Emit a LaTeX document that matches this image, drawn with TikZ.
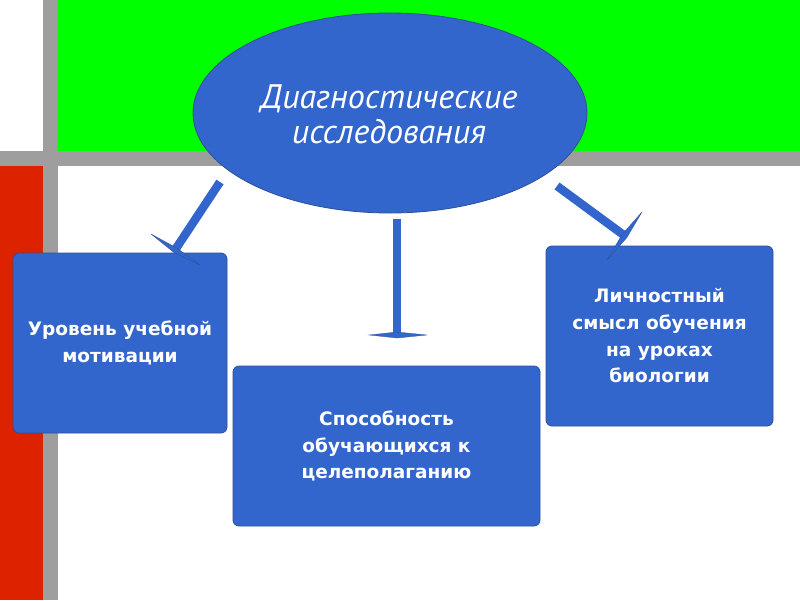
\documentclass[tikz,border=0pt]{standalone}
\usepackage{fontspec}
\setmainfont{DejaVu Sans}
\newfontfamily\ellfont{PT Sans}
\usetikzlibrary{shapes.geometric}
\definecolor{mainblue}{RGB}{51,102,204}
\definecolor{boxedge}{RGB}{45,80,150}
\definecolor{bargrey}{RGB}{158,158,158}
\definecolor{topgreen}{RGB}{0,255,0}
\definecolor{sidered}{RGB}{221,34,0}
\begin{document}
\begin{tikzpicture}[x=1pt,y=-1pt,
  boxstyle/.style={draw=boxedge, line width=0.8pt, fill=mainblue, rounded corners=6pt,
    text=white, font=\bfseries\fontsize{18.5}{26.7}\selectfont, align=center, inner sep=0pt},
  ellstyle/.style={ellipse, draw=boxedge, line width=0.8pt, fill=mainblue, text=white,
    font=\ellfont\itshape\fontsize{34}{35}\selectfont, align=center, inner sep=0pt},
  shaft/.style={line width=8.5pt, draw=mainblue},
  crossbar/.style={fill=mainblue, draw=boxedge, line width=0.3pt}]
\useasboundingbox (0,0) rectangle (800,600);
\fill[white] (0,0) rectangle (800,600);
% background bars
\fill[topgreen] (58,0) rectangle (800,151);
\fill[sidered] (0,166) rectangle (43,600);
\fill[bargrey] (43,0) rectangle (58,600);
\fill[bargrey] (0,151) rectangle (800,166);
% central ellipse
\node[ellstyle, minimum width=394pt, minimum height=200pt] (ell) at (390,113) {};
\node[text=white, font=\ellfont\itshape\fontsize{34}{35}\selectfont, align=center, inner sep=0pt]
  (elltext) at (389,114) {Диагностические\\исследования};
% boxes
\node[boxstyle, minimum width=214pt, minimum height=180pt] (lbox) at (120,343)
  {Уровень учебной\\мотивации};
\node[boxstyle, minimum width=307pt, minimum height=160pt] (mbox) at (386.5,446)
  {Способность\\обучающихся к\\целеполаганию};
\node[boxstyle, minimum width=227pt, minimum height=180pt] (rbox) at (659.5,336)
  {Личностный\\смысл обучения\\на уроках\\биологии};
% connector ends
\coordinate (ls) at (220,182);
\coordinate (le) at (175,250);
\coordinate (ms) at (397,219);
\coordinate (me) at (397,335);
\coordinate (rs) at (557,186);
\coordinate (re) at (625,236);
% shafts
\draw[shaft] (ls) -- (le);
\draw[shaft] (ms) -- (me);
\draw[shaft] (rs) -- (re);
% cross bars
\filldraw[crossbar] (151,234) -- (173.6,252.2) -- (200,265) -- (176.4,247.8) -- cycle;
\filldraw[crossbar] (369,335) -- (397,338) -- (427,335) -- (397,332) -- cycle;
\filldraw[crossbar] (642,212) -- (626.7,237.8) -- (607,260) -- (622.3,234.2) -- cycle;
\end{tikzpicture}
\end{document}
